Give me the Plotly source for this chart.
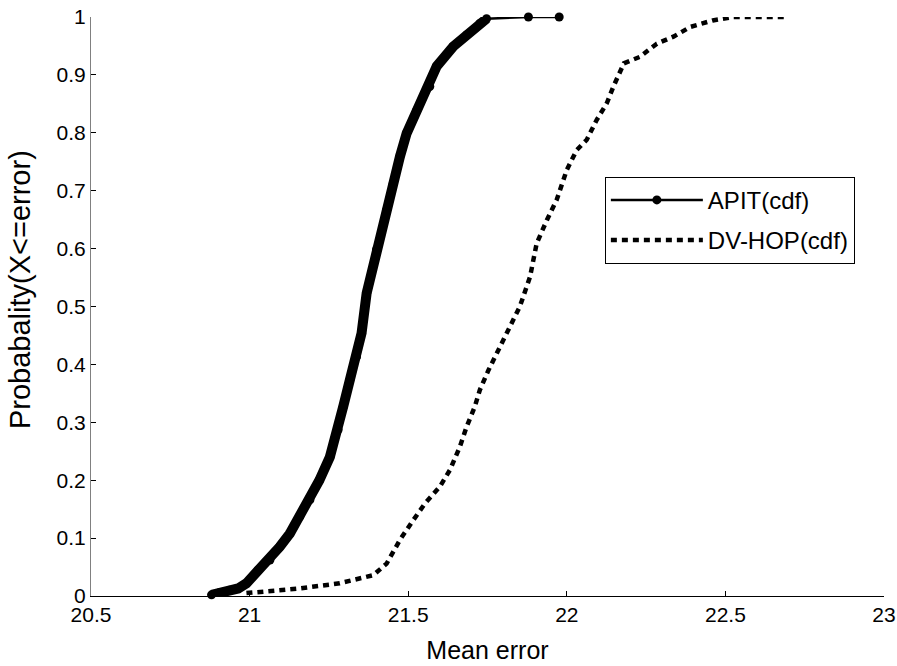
import plotly.graph_objects as go

apit_x = [20.88, 20.906, 20.937, 20.964, 20.99, 21.027, 21.064, 21.095, 21.127, 21.158,
          21.19, 21.22, 21.253, 21.279, 21.295, 21.316, 21.337, 21.353, 21.369, 21.40,
          21.432, 21.453, 21.474, 21.495, 21.527, 21.568, 21.59, 21.642, 21.684, 21.726,
          21.747, 21.879, 21.976]
apit_y = [0.002, 0.006, 0.01, 0.013, 0.022, 0.045, 0.062, 0.085, 0.108, 0.137,
          0.166, 0.2, 0.24, 0.287, 0.327, 0.373, 0.413, 0.454, 0.523, 0.598,
          0.667, 0.713, 0.759, 0.799, 0.839, 0.880, 0.915, 0.949, 0.969, 0.989,
          0.997, 1.0, 1.0]

dv_x = [20.99, 21.158, 21.284, 21.39, 21.432, 21.474, 21.516, 21.553, 21.60, 21.632,
        21.663, 21.684, 21.71, 21.726, 21.753, 21.774, 21.80, 21.831, 21.852, 21.884,
        21.905, 21.937, 21.968, 22.0, 22.031, 22.063, 22.094, 22.126, 22.147, 22.18,
        22.23, 22.284, 22.336, 22.39, 22.46, 22.525, 22.69]
dv_y = [0.005, 0.013, 0.022, 0.036, 0.056, 0.097, 0.131, 0.16, 0.189, 0.218,
        0.258, 0.292, 0.327, 0.356, 0.39, 0.413, 0.442, 0.477, 0.50, 0.551,
        0.609, 0.649, 0.684, 0.736, 0.77, 0.788, 0.822, 0.851, 0.88, 0.92,
        0.931, 0.954, 0.966, 0.983, 0.994, 1.0, 1.0]

x_ticks = [20.5, 21, 21.5, 22, 22.5, 23]
x_tick_labels = ["20.5", "21", "21.5", "22", "22.5", "23"]
y_ticks = [0, 0.1, 0.2, 0.3, 0.4, 0.5, 0.6, 0.7, 0.8, 0.9, 1]
y_tick_labels = ["0", "0.1", "0.2", "0.3", "0.4", "0.5", "0.6", "0.7", "0.8", "0.9", "1"]

FONT = "Liberation Sans, Arial, sans-serif"

fig = go.Figure()

# thick band for the dense part of APIT (markers overlap there in the original)
n_dense = len(apit_x) - 2
fig.add_trace(go.Scatter(
    x=apit_x[:n_dense], y=apit_y[:n_dense], mode="lines",
    line=dict(color="black", width=10),
    showlegend=False, hoverinfo="skip", cliponaxis=False))

fig.add_trace(go.Scatter(
    x=apit_x, y=apit_y, mode="lines+markers", name="APIT(cdf)", legendgroup="a",
    line=dict(color="black", width=2.5),
    marker=dict(color="black", size=9, symbol="circle"),
    cliponaxis=False))

fig.add_trace(go.Scatter(
    x=dv_x, y=dv_y, mode="lines", name="DV-HOP(cdf)", legendgroup="b",
    line=dict(color="black", width=4.5, dash="6px,5px"),
    cliponaxis=False))

fig.update_layout(
    width=897, height=666,
    margin=dict(l=91, r=13, t=17, b=70),
    paper_bgcolor="white", plot_bgcolor="white",
    font=dict(family=FONT, size=21, color="black"),
    legend=dict(
        x=0.648, y=0.724, xanchor="left", yanchor="top",
        bordercolor="black", borderwidth=1, bgcolor="white",
        font=dict(family=FONT, size=24, color="black"),
        itemwidth=92,
        tracegroupgap=6,
    ),
    xaxis=dict(
        range=[20.5, 23], tickvals=x_ticks, ticktext=x_tick_labels, automargin=False,
        showgrid=False, zeroline=False, showline=True, linecolor="black", linewidth=1,
        ticks="inside", ticklen=5, tickcolor="black", mirror=False,
        tickfont=dict(family=FONT, size=21, color="black"),
        title=dict(text="Mean error", font=dict(family=FONT, size=25, color="black"), standoff=16),
    ),
    yaxis=dict(
        range=[0, 1], tickvals=y_ticks, ticktext=y_tick_labels, automargin=False,
        showgrid=False, zeroline=False, showline=True, linecolor="#808080", linewidth=1,
        ticks="inside", ticklen=5, tickcolor="black", mirror=False,
        tickfont=dict(family=FONT, size=21, color="black"),
    ),
    annotations=[dict(
        text="Probabality(X<=error)", textangle=-90,
        xref="paper", yref="paper", x=-0.0895, y=0.5285,
        xanchor="center", yanchor="middle", showarrow=False,
        font=dict(family=FONT, size=29, color="black"),
    )],
)

fig.write_html("out.html")
